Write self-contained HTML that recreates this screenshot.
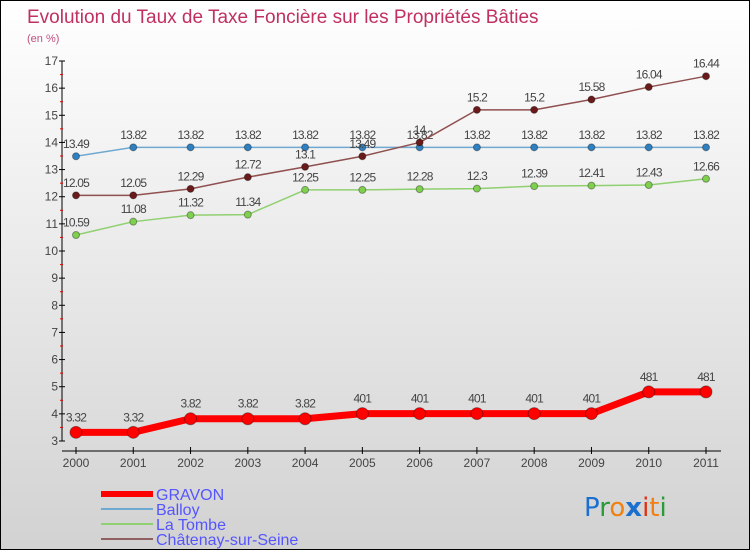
<!DOCTYPE html>
<html><head><meta charset="utf-8"><style>
body{margin:0}
#c{width:750px;height:550px;position:relative;box-sizing:border-box;border:1px solid #000;background:linear-gradient(#fff,#d2d2d2);font-family:"Liberation Sans",sans-serif;overflow:hidden}
svg{position:absolute;left:0;top:0}
</style></head><body>
<div id="c">
<svg id="s" width="750" height="550">
<text x="26" y="22" font-size="19" fill="#c03060">Evolution du Taux de Taxe Foncière sur les Propriétés Bâties</text>
<text x="26" y="41" font-size="11" fill="#c05080">(en %)</text>
<g>
<line x1="100" y1="493" x2="152" y2="493" stroke="#f00" stroke-width="6"/>
<text x="155" y="499" font-size="16" fill="#5555ff">GRAVON</text>
<line x1="100" y1="508" x2="152" y2="508" stroke="#6fa8d0" stroke-width="2"/>
<text x="155" y="514" font-size="16" fill="#5555ff">Balloy</text>
<line x1="100" y1="523" x2="152" y2="523" stroke="#90d070" stroke-width="2"/>
<text x="155" y="529" font-size="16" fill="#5555ff">La Tombe</text>
<line x1="100" y1="538" x2="152" y2="538" stroke="#906060" stroke-width="2"/>
<text x="155" y="544" font-size="16" fill="#5555ff">Châtenay-sur-Seine</text>
</g>
<text x="583" y="515" font-size="26" font-family="'DejaVu Sans',sans-serif"><tspan fill="#1a6fcf">P</tspan><tspan fill="#2a9a3a">r</tspan><tspan fill="#f08010">o</tspan><tspan fill="#1a6fcf" font-weight="bold">x</tspan><tspan fill="#e03010">i</tspan><tspan fill="#f08010">t</tspan><tspan fill="#2a9a3a">i</tspan></text>
</svg>
</div>
<script>
const years=["2000","2001","2002","2003","2004","2005","2006","2007","2008","2009","2010","2011"];
const yTicks=[3,4,5,6,7,8,9,10,11,12,13,14,15,16,17];
const gravon=[3.32,3.32,3.82,3.82,3.82,4.01,4.01,4.01,4.01,4.01,4.81,4.81];
const gravonLabels=["3.32","3.32","3.82","3.82","3.82","401","401","401","401","401","481","481"];
const balloy=[13.49,13.82,13.82,13.82,13.82,13.82,13.82,13.82,13.82,13.82,13.82,13.82];
const laTombe=[10.59,11.08,11.32,11.34,12.25,12.25,12.28,12.3,12.39,12.41,12.43,12.66];
const laTombeLabels=["10.59","11.08","11.32","11.34","12.25","12.25","12.28","12.3","12.39","12.41","12.43","12.66"];
const chatenay=[12.05,12.05,12.29,12.72,13.1,13.49,14,15.2,15.2,15.58,16.04,16.44];
const chatenayLabels=["12.05","12.05","12.29","12.72","13.1","13.49","14","15.2","15.2","15.58","16.04","16.44"];
const balloyLabels=balloy.map(v=>v.toFixed(2));
const NS="http://www.w3.org/2000/svg",s=document.getElementById("s");
const X=i=>75+i*(630/11), Y=v=>440-(v-3)*(380/14);
function el(t,a,p){const e=document.createElementNS(NS,t);for(const k in a)e.setAttribute(k,a[k]);(p||s).appendChild(e);return e;}
const ax=el("g",{});


const yl=el("line",{x1:61,y1:60,x2:61,y2:440,stroke:"#000"},ax);


yTicks.forEach(v=>{
 const t=el("line",{x1:58,x2:64,y1:Y(v),y2:Y(v),stroke:"#000"},ax);
 
 
 if(v<17){const m=el("line",{x1:59,x2:62,y1:Y(v+0.5),y2:Y(v+0.5),stroke:"#e00"},ax);
 
 }
 const l=el("text",{x:57,y:Y(v)+4,"text-anchor":"end","font-size":12,fill:"#444"},ax);l.textContent=v;
 
 
});
const xl=el("line",{x1:61,y1:450,x2:720,y2:450,stroke:"#000"},ax);


years.forEach((y,i)=>{
 const t=el("line",{x1:X(i),x2:X(i),y1:446,y2:453,stroke:"#000"},ax);
 
 
 const l=el("text",{x:X(i),y:466,"text-anchor":"middle","font-size":12,fill:"#444"},ax);l.textContent=y;
 
 
});
function series(vals,labs,col,dot,w,r,name){
 const g=el("g",{});
 
 
 const p=el("polyline",{points:vals.map((v,i)=>X(i)+","+Y(v)).join(" "),fill:"none",stroke:col,"stroke-width":w,"stroke-linejoin":"round"},g);
 
 
 vals.forEach((v,i)=>{
  const c=el("circle",{cx:X(i),cy:Y(v),r:r,fill:dot,stroke:"rgba(0,0,0,0.35)","stroke-width":1},g);
  
  
  const t=el("text",{x:X(i),y:Y(v)-(r+5),"text-anchor":"middle","font-size":12,fill:"#444","letter-spacing":"-0.8"},g);t.textContent=labs[i];
  
  
 });
}
series(laTombe,laTombeLabels,"#90d070","#80d050",1.5,3.5,"la-tombe");
series(balloy,balloyLabels,"#6fa8d0","#2f80c0",1.5,3.5,"balloy");
series(chatenay,chatenayLabels,"#905050","#6a1a1a",1.5,3.5,"chatenay");
series(gravon,gravonLabels,"#f00","#f00",7,6,"gravon");
</script>
</body></html>
